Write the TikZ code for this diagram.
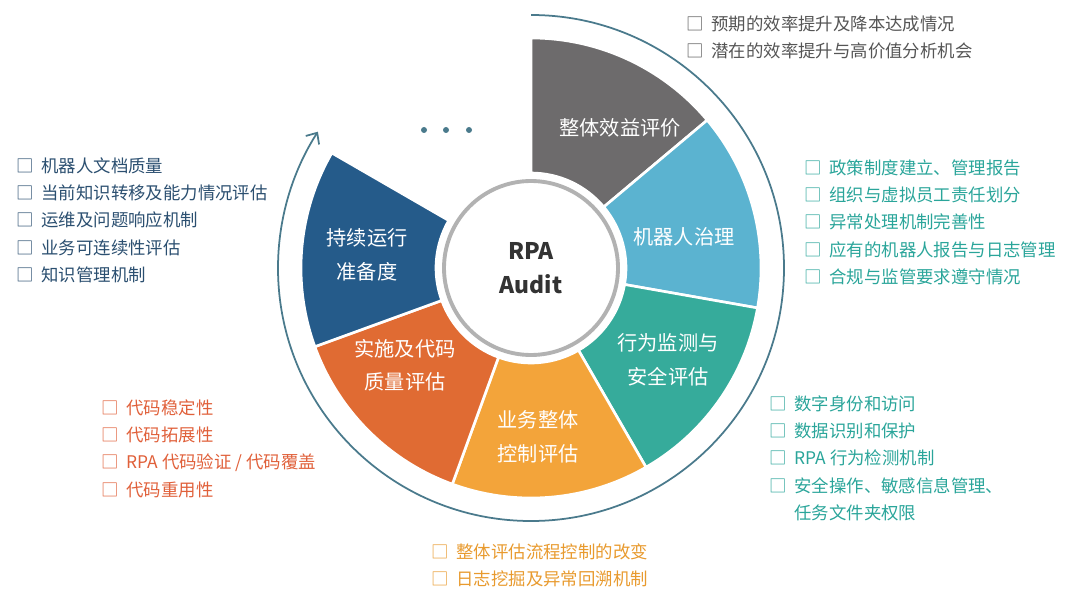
\documentclass[tikz,border=0pt]{standalone}
\usepackage{fontspec}
\setmainfont{Noto Sans CJK SC}
\usetikzlibrary{arrows.meta,positioning}
\definecolor{cgray}{HTML}{6D6B6C}
\definecolor{clblue}{HTML}{5BB3D0}
\definecolor{cteal}{HTML}{36AB9B}
\definecolor{cyellow}{HTML}{F3A43A}
\definecolor{corange}{HTML}{E06B33}
\definecolor{cdblue}{HTML}{255B8A}
\definecolor{cring}{HTML}{4A7A8C}
\definecolor{tgray}{HTML}{555555}
\definecolor{tteal}{HTML}{2AA59A}
\definecolor{torange}{HTML}{E0603A}
\definecolor{tyellow}{HTML}{E89A2E}
\definecolor{tdblue}{HTML}{2B4F70}
\tikzset{
  seglabel/.style={text=white,align=center,font=\fontsize{11.5}{19}\selectfont},
  itemlist/.style={anchor=north west,align=left,inner sep=0pt,font=\fontsize{9.9}{15.6}\selectfont}
}
\begin{document}
\begin{tikzpicture}[x=0.2mm,y=0.2mm]
   \useasboundingbox (0,0) rectangle (1080,598);
   \coordinate (c) at (531,330);
   % sectors
   \foreach \col [count=\i] in {cgray,clblue,cteal,cyellow,corange,cdblue} {
     \pgfmathsetmacro{\aa}{90-50*(\i-1)}
     \pgfmathsetmacro{\ab}{40-50*(\i-1)}
     \fill[\col,draw=white,line width=1.5pt] ([shift={(\aa:230)}]c) arc[start angle=\aa,end angle=\ab,radius=230]
       -- ([shift={(\ab:95)}]c) arc[start angle=\ab,end angle=\aa,radius=95] -- cycle;
   }
   \fill[white] (c) circle[radius=93];
   \draw[gray!60,line width=2.2pt] (c) circle[radius=87];
   \node[font=\bfseries\fontsize{13}{19}\selectfont,text=black!80,align=center] (audit) at (c) {RPA\\Audit};
   % outer ring with arrow
   \coordinate (ringstart) at ([shift={(90:253)}]c);
   \draw[cring,line width=1pt,-{Straight Barb[length=5pt,width=9pt]}] (ringstart) arc[start angle=90,end angle=-212.6,radius=253];
   \foreach \x in {424,446,469} \fill[cring] (\x,468) circle[radius=3];
   % segment labels
   \node[seglabel] (benefit) at (620,470) {整体效益评价};
   \node[seglabel] (govern) at (684,361) {机器人治理};
   \node[seglabel] (monitor) at (668,238) {行为监测与\\安全评估};
   \node[seglabel] (control) at (538,161) {业务整体\\控制评估};
   \node[seglabel] (quality) at (405,233) {实施及代码\\质量评估};
   \node[seglabel] (ready) at (367,343) {持续运行\\准备度};
   % item lists
   \node[itemlist,text=tgray] (benefitlist) at (686,583) {□\ \ 预期的效率提升及降本达成情况\\□\ \ 潜在的效率提升与高价值分析机会};
   \node[itemlist,text=tteal] (governlist) at (804,439) {□\ \ 政策制度建立、管理报告\\□\ \ 组织与虚拟员工责任划分\\□\ \ 异常处理机制完善性\\□\ \ 应有的机器人报告与日志管理\\□\ \ 合规与监管要求遵守情况};
   \node[itemlist,text=tdblue] (readylist) at (16,441) {□\ \ 机器人文档质量\\□\ \ 当前知识转移及能力情况评估\\□\ \ 运维及问题响应机制\\□\ \ 业务可连续性评估\\□\ \ 知识管理机制};
   \node[itemlist,text=torange] (qualitylist) at (101,199) {□\ \ 代码稳定性\\□\ \ 代码拓展性\\□\ \ RPA 代码验证 / 代码覆盖\\□\ \ 代码重用性};
   \node[itemlist,text=tteal] (monitorlist) at (769,203) {□\ \ 数字身份和访问\\□\ \ 数据识别和保护\\□\ \ RPA 行为检测机制\\□\ \ 安全操作、敏感信息管理、\\\phantom{□\ \ }任务文件夹权限};
   \node[itemlist,text=tyellow] (controllist) at (431,55) {□\ \ 整体评估流程控制的改变\\□\ \ 日志挖掘及异常回溯机制};
\end{tikzpicture}
\end{document}
